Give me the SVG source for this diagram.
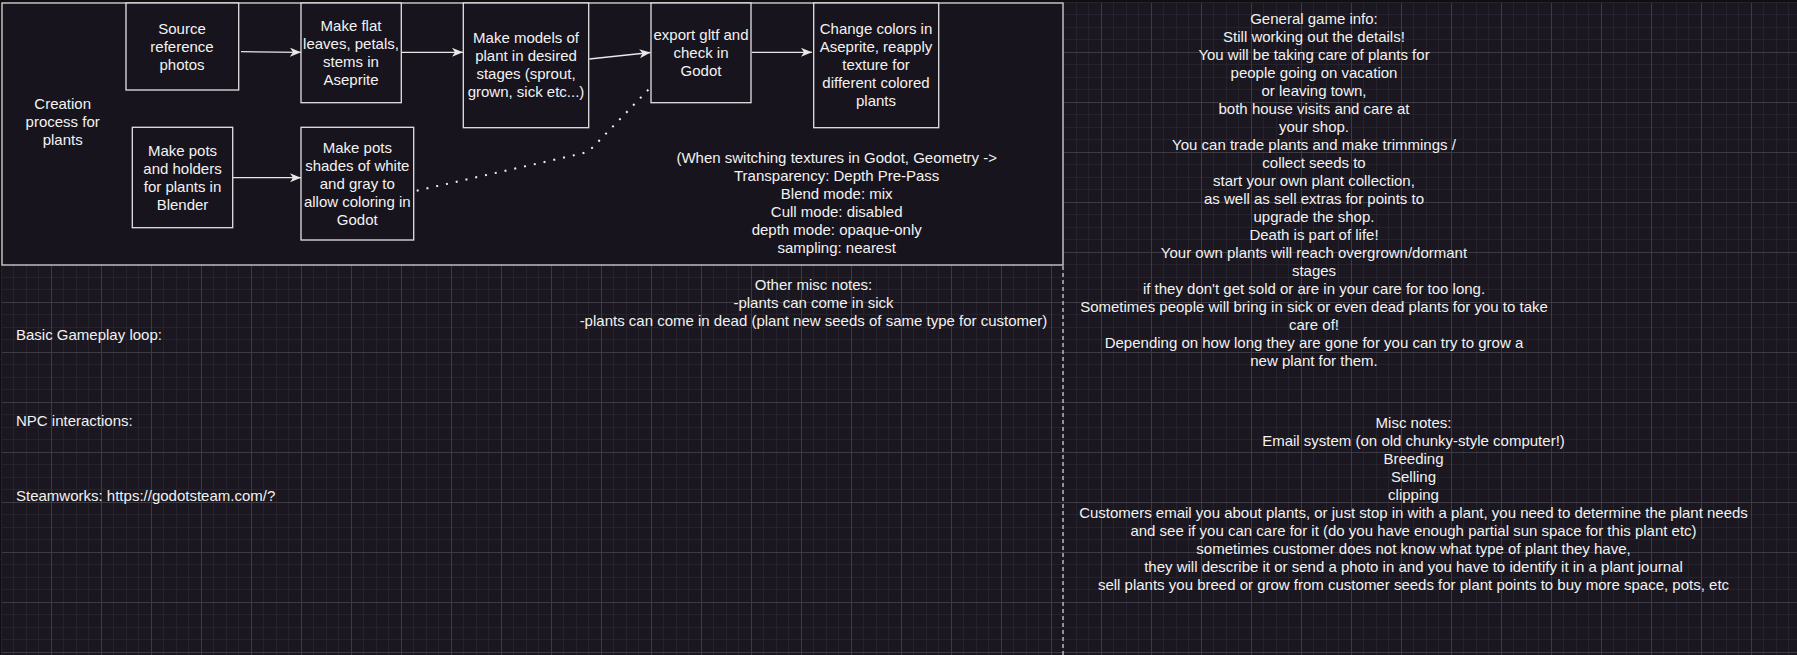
<svg xmlns="http://www.w3.org/2000/svg" width="1797" height="655" viewBox="0 0 1797 655">
<style>
text{font-family:"Liberation Sans",Arial,sans-serif;font-size:15px;fill:#f2f2f2}
.c{text-anchor:middle}
.box{fill:#18141d;stroke:#e2e2e2;stroke-width:1.3}
.edge{fill:none;stroke:#e8e8e8;stroke-width:1.3}
</style>
<defs>
<pattern id="grid" patternUnits="userSpaceOnUse" x="1" y="2" width="50" height="50">
<rect width="50" height="50" fill="#1a1720"/>
<rect x="12" width="1" height="50" fill="#25222b"/>
<rect x="25" width="1" height="50" fill="#25222b"/>
<rect x="37" width="1" height="50" fill="#25222b"/>
<rect y="12" width="50" height="1" fill="#25222b"/>
<rect y="25" width="50" height="1" fill="#25222b"/>
<rect y="37" width="50" height="1" fill="#25222b"/>
<rect x="0" width="1" height="50" fill="#3d3a43"/>
<rect y="0" width="50" height="1" fill="#3d3a43"/>
</pattern>
<marker id="arr" markerUnits="userSpaceOnUse" markerWidth="12" markerHeight="10" refX="11" refY="4.5" orient="auto">
<path d="M0,0 L11,4.5 L0,9 L3,4.5 Z" fill="#e8e8e8"/>
</marker>
</defs>
<rect width="1797" height="655" fill="url(#grid)"/>
<rect width="1797" height="2.5" fill="#0f0f12"/>
<rect width="1.5" height="655" fill="#0f0f12"/>

<g id="container">
<rect x="2" y="3" width="1061" height="262" fill="#18141d" stroke="#d6d6d6" stroke-width="1.3"/>
<text class="c" x="62.7" y="109">Creation</text>
<text class="c" x="62.7" y="127">process for</text>
<text class="c" x="62.7" y="145">plants</text>
</g>

<g id="divider">
<line x1="1063" y1="266" x2="1063" y2="655" stroke="#cfcfcf" stroke-width="1.3" stroke-dasharray="4 3"/>
</g>

<g id="connectors">
<line class="edge" x1="241" y1="51.7" x2="301" y2="52.3" marker-end="url(#arr)"/>
<line class="edge" x1="402" y1="52.3" x2="463" y2="52.3" marker-end="url(#arr)"/>
<line class="edge" x1="589.3" y1="59" x2="650.5" y2="52.5" marker-end="url(#arr)"/>
<line class="edge" x1="752" y1="52.3" x2="812" y2="52.3" marker-end="url(#arr)"/>
<line class="edge" x1="232.7" y1="177.7" x2="301" y2="177.7" marker-end="url(#arr)"/>
<path d="M416.7,190.7 L582,153.5 Q590,151 596,144 L649,89" fill="none" stroke="#f0f0f0" stroke-width="2" stroke-dasharray="2 8"/>
</g>

<g id="source">
<rect class="box" x="126" y="3" width="112.7" height="87"/>
<text class="c" x="182" y="34">Source</text>
<text class="c" x="182" y="52">reference</text>
<text class="c" x="182" y="70">photos</text>
</g>

<g id="leaves">
<rect class="box" x="301" y="3" width="100.3" height="99.7"/>
<text class="c" x="351" y="31">Make flat</text>
<text class="c" x="351" y="49">leaves, petals,</text>
<text class="c" x="351" y="67">stems in</text>
<text class="c" x="351" y="85">Aseprite</text>
</g>

<g id="models">
<rect class="box" x="463.3" y="3" width="125.4" height="124.7"/>
<text class="c" x="526" y="43">Make models of</text>
<text class="c" x="526" y="61">plant in desired</text>
<text class="c" x="526" y="79">stages (sprout,</text>
<text class="c" x="526" y="97">grown, sick etc...)</text>
</g>

<g id="export">
<rect class="box" x="651" y="3" width="100" height="99.7"/>
<text class="c" x="701" y="40">export gltf and</text>
<text class="c" x="701" y="58">check in</text>
<text class="c" x="701" y="76">Godot</text>
</g>

<g id="recolor">
<rect class="box" x="813.7" y="3" width="125" height="124.7"/>
<text class="c" x="876" y="34">Change colors in</text>
<text class="c" x="876" y="52">Aseprite, reapply</text>
<text class="c" x="876" y="70">texture for</text>
<text class="c" x="876" y="88">different colored</text>
<text class="c" x="876" y="106">plants</text>
</g>

<g id="pots">
<rect class="box" x="132.3" y="127.3" width="100.4" height="100.4"/>
<text class="c" x="182.5" y="156">Make pots</text>
<text class="c" x="182.5" y="174">and holders</text>
<text class="c" x="182.5" y="192">for plants in</text>
<text class="c" x="182.5" y="210">Blender</text>
</g>

<g id="shades">
<rect class="box" x="301" y="127.3" width="112.7" height="112.7"/>
<text class="c" x="357.3" y="153">Make pots</text>
<text class="c" x="357.3" y="171">shades of white</text>
<text class="c" x="357.3" y="189">and gray to</text>
<text class="c" x="357.3" y="207">allow coloring in</text>
<text class="c" x="357.3" y="225">Godot</text>
</g>

<g id="godot-note">
<text class="c" x="836.7" y="163">(When switching textures in Godot, Geometry -&gt;</text>
<text class="c" x="836.7" y="181">Transparency: Depth Pre-Pass</text>
<text class="c" x="836.7" y="199">Blend mode: mix</text>
<text class="c" x="836.7" y="217">Cull mode: disabled</text>
<text class="c" x="836.7" y="235">depth mode: opaque-only</text>
<text class="c" x="836.7" y="253">sampling: nearest</text>
</g>

<g id="other-misc">
<text class="c" x="813.5" y="290">Other misc notes:</text>
<text class="c" x="813.5" y="308">-plants can come in sick</text>
<text class="c" x="813.5" y="326">-plants can come in dead (plant new seeds of same type for customer)</text>
</g>

<g id="labels">
<text x="16" y="340">Basic Gameplay loop:</text>
<text x="16" y="426">NPC interactions:</text>
<text x="16" y="501">Steamworks: https://godotsteam.com/?</text>
</g>

<g id="general-info">
<text class="c" x="1314" y="24">General game info:</text>
<text class="c" x="1314" y="42">Still working out the details!</text>
<text class="c" x="1314" y="60">You will be taking care of plants for</text>
<text class="c" x="1314" y="78">people going on vacation</text>
<text class="c" x="1314" y="96">or leaving town,</text>
<text class="c" x="1314" y="114">both house visits and care at</text>
<text class="c" x="1314" y="132">your shop.</text>
<text class="c" x="1314" y="150">You can trade plants and make trimmings /</text>
<text class="c" x="1314" y="168">collect seeds to</text>
<text class="c" x="1314" y="186">start your own plant collection,</text>
<text class="c" x="1314" y="204">as well as sell extras for points to</text>
<text class="c" x="1314" y="222">upgrade the shop.</text>
<text class="c" x="1314" y="240">Death is part of life!</text>
<text class="c" x="1314" y="258">Your own plants will reach overgrown/dormant</text>
<text class="c" x="1314" y="276">stages</text>
<text class="c" x="1314" y="294">if they don't get sold or are in your care for too long.</text>
<text class="c" x="1314" y="312">Sometimes people will bring in sick or even dead plants for you to take</text>
<text class="c" x="1314" y="330">care of!</text>
<text class="c" x="1314" y="348">Depending on how long they are gone for you can try to grow a</text>
<text class="c" x="1314" y="366">new plant for them.</text>
</g>

<g id="misc-notes">
<text class="c" x="1413.5" y="427.5">Misc notes:</text>
<text class="c" x="1413.5" y="445.5">Email system (on old chunky-style computer!)</text>
<text class="c" x="1413.5" y="463.5">Breeding</text>
<text class="c" x="1413.5" y="481.5">Selling</text>
<text class="c" x="1413.5" y="499.5">clipping</text>
<text class="c" x="1413.5" y="517.5">Customers email you about plants, or just stop in with a plant, you need to determine the plant needs</text>
<text class="c" x="1413.5" y="535.5">and see if you can care for it (do you have enough partial sun space for this plant etc)</text>
<text class="c" x="1413.5" y="553.5">sometimes customer does not know what type of plant they have,</text>
<text class="c" x="1413.5" y="571.5">they will describe it or send a photo in and you have to identify it in a plant journal</text>
<text class="c" x="1413.5" y="589.5">sell plants you breed or grow from customer seeds for plant points to buy more space, pots, etc</text>
</g>
</svg>
